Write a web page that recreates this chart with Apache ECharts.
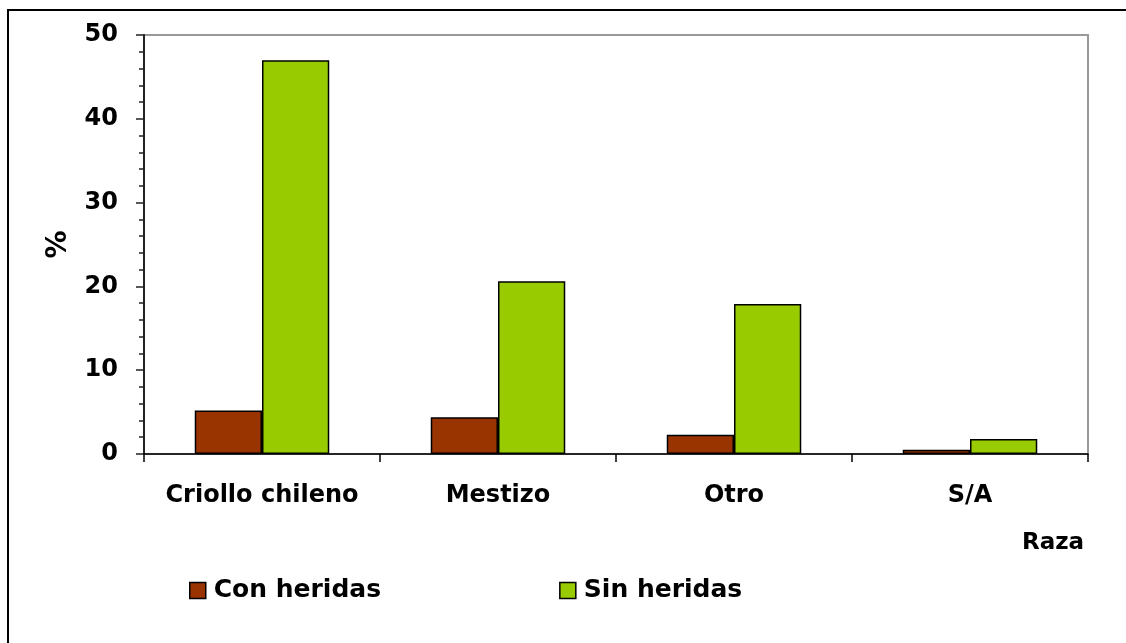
<!DOCTYPE html>
<html>
<head>
<meta charset="utf-8">
<script src="https://cdn.jsdelivr.net/npm/echarts@6/dist/echarts.min.js"></script>
<style>
  html, body { margin: 0; padding: 0; background: #fff; }
  #chart { width: 1126px; height: 643px; }
</style>
</head>
<body>
<div id="chart"></div>
<script>
// Porcentaje de animales por raza, con y sin heridas
const categories = ['Criollo chileno', 'Mestizo', 'Otro', 'S/A'];
const conHeridas = [5.2, 4.4, 2.3, 0.5];
const sinHeridas = [47.0, 20.6, 17.9, 1.8];
const seriesNames = ['Con heridas', 'Sin heridas'];
const yTicks = { min: 0, max: 50, interval: 10 };

const FONT = '"DejaVu Sans", Verdana, sans-serif';

const chart = echarts.init(document.getElementById('chart'), null, { renderer: 'canvas' });

chart.setOption({
  animation: false,
  backgroundColor: '#ffffff',
  textStyle: { fontFamily: FONT, fontWeight: 'bold', color: '#000' },
  grid: { left: 144, top: 35, right: 38, bottom: 189, show: true, borderColor: '#999', borderWidth: 2, backgroundColor: 'transparent' },
  legend: {
    data: seriesNames,
    left: 184, top: 573,
    itemWidth: 16, itemHeight: 16, itemGap: 178,
    icon: 'rect',
    itemStyle: { borderColor: '#000', borderWidth: 1.5 },
    textStyle: { fontFamily: FONT, fontWeight: 'bold', fontSize: 25, color: '#000', padding: [0, 0, 0, 3] }
  },
  xAxis: {
    type: 'category',
    data: categories,
    axisLine: { lineStyle: { color: '#000', width: 1.5 } },
    axisTick: { show: true, interval: 0, length: 8, lineStyle: { color: '#000', width: 1.5 } },
    axisLabel: { interval: 0, margin: 30, fontFamily: FONT, fontWeight: 'bold', fontSize: 24, color: '#000' },
    splitLine: { show: false }
  },
  yAxis: {
    type: 'value',
    min: yTicks.min, max: yTicks.max, interval: yTicks.interval,
    name: '%',
    nameLocation: 'middle', nameRotate: 90, nameGap: 71,
    nameTextStyle: { fontFamily: FONT, fontWeight: 'bold', fontSize: 28, color: '#000' },
    axisLine: { show: true, lineStyle: { color: '#222', width: 2 } },
    axisTick: { show: true, length: 8, lineStyle: { color: '#222', width: 1.5 } },
    minorTick: { show: true, splitNumber: 5, length: 5, lineStyle: { color: '#222', width: 1.5 } },
    axisLabel: { margin: 26, fontFamily: FONT, fontWeight: 'bold', fontSize: 24, color: '#000' },
    splitLine: { show: false }
  },
  series: [
    {
      name: seriesNames[0], type: 'bar', data: conHeridas,
      barGap: '0%', barCategoryGap: '43%',
      itemStyle: { color: '#993300', borderColor: '#000', borderWidth: 1.5 }
    },
    {
      name: seriesNames[1], type: 'bar', data: sinHeridas,
      barGap: '0%', barCategoryGap: '43%',
      itemStyle: { color: '#99cc00', borderColor: '#000', borderWidth: 1.5 }
    }
  ],
  graphic: [
    {
      type: 'rect', silent: true,
      shape: { x: 8, y: 10, width: 1140, height: 660 },
      style: { fill: 'none', stroke: '#000', lineWidth: 2 }
    },
    {
      type: 'text', left: 1022, top: 532,
      style: { text: 'Raza', font: 'bold 23px ' + FONT, fill: '#000' }
    }
  ]
});
</script>
</body>
</html>
